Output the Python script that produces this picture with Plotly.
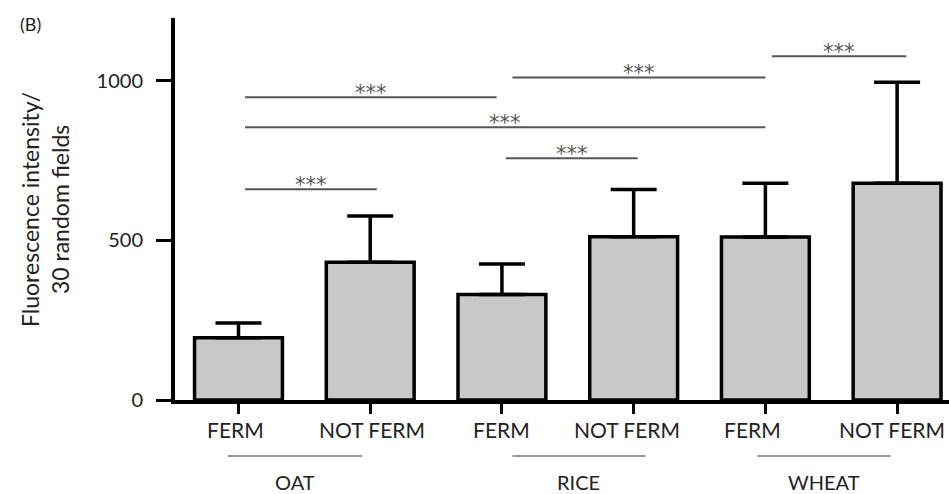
import plotly.graph_objects as go

# ---- data ----
categories = ["FERM", "NOT FERM", "FERM", "NOT FERM", "FERM", "NOT FERM"]
means = [195, 431, 330, 511, 510, 679]
sd_upper = [46, 145, 96, 148, 169, 316]
groups = ["OAT", "RICE", "WHEAT"]
group_start = [-0.08, 2.08, 3.94]
group_end = [0.94, 3.09, 4.95]
y_ticks = [0, 500, 1000]

# significance brackets
sig_start = [0.05, 0.05, 2.03, 0.05, 2.08, 4.05]
sig_end = [1.96, 4.0, 3.03, 1.05, 4.0, 5.07]
sig_height = [948, 854, 757, 660, 1010, 1076]
sig_label = ["***", "***", "***", "***", "***", "***"]

# label nudges (pixels) — styling only
label_nudge = [-3, 2, 0, -7, -13, -5]

FONT = "Lato"
TXT = "#222222"
x_pos = list(range(len(categories)))

fig = go.Figure()
fig.add_trace(go.Bar(
    x=x_pos, y=means, width=0.667,
    marker=dict(color="#c8c8c8", line=dict(color="black", width=3.5)),
    error_y=dict(type="data", array=sd_upper, arrayminus=[0] * len(means),
                 symmetric=False, color="black", thickness=3.5, width=23),
    showlegend=False,
))

shapes = []
annotations = []
for s, e, h, lab in zip(sig_start, sig_end, sig_height, sig_label):
    shapes.append(dict(type="line", xref="x", yref="y", x0=s, x1=e, y0=h, y1=h,
                       line=dict(color="#555555", width=2)))
    annotations.append(dict(x=(s + e) / 2, y=h, xref="x", yref="y", text=lab,
                            showarrow=False, yanchor="middle", yshift=4,
                            font=dict(family="DejaVu Sans", size=21, color="#555555")))

for xp, lab, dx in zip(x_pos, categories, label_nudge):
    annotations.append(dict(x=xp, y=-0.0784, xref="x", yref="paper", text=lab,
                            showarrow=False, yanchor="middle", xshift=dx,
                            font=dict(family=FONT, size=21, color=TXT)))

for g, s, e in zip(groups, group_start, group_end):
    shapes.append(dict(type="line", xref="x", yref="paper", x0=s, x1=e,
                       y0=-0.1464, y1=-0.1464,
                       line=dict(color="#777777", width=1.5)))
    annotations.append(dict(x=(s + e) / 2, y=-0.2144, xref="x", yref="paper", text=g,
                            showarrow=False, yanchor="middle",
                            font=dict(family=FONT, size=20, color=TXT)))

annotations.append(dict(x=-0.168, y=0.5, xref="paper", yref="paper",
                        text="Fluorescence intensity/<br>30 random fields",
                        textangle=-90, showarrow=False, xanchor="center", yanchor="middle",
                        font=dict(family=FONT, size=23, color=TXT)))
annotations.append(dict(x=-0.1866, y=0.983, xref="paper", yref="paper", text="(B)",
                        showarrow=False, xanchor="center", yanchor="middle",
                        font=dict(family=FONT, size=18, color=TXT)))

fig.update_layout(
    width=949, height=494,
    margin=dict(l=174.5, r=0, t=17.5, b=94, pad=0),
    plot_bgcolor="white", paper_bgcolor="white",
    shapes=shapes, annotations=annotations,
    font=dict(family=FONT, color=TXT),
)
fig.update_xaxes(
    range=[-0.482, 5.394], tickmode="array", tickvals=x_pos, showticklabels=False,
    showline=True, linecolor="black", linewidth=4, ticks="outside", ticklen=10,
    tickwidth=3, tickcolor="black", showgrid=False, zeroline=False,
)
fig.update_yaxes(
    range=[0, 1196], tickmode="array", tickvals=y_ticks,
    showline=True, linecolor="black", linewidth=4, ticks="outside", ticklen=15,
    tickwidth=3, tickcolor="black", showgrid=False, zeroline=False,
    ticklabelstandoff=9,
    tickfont=dict(family=FONT, size=20, color=TXT),
)

fig.write_html(
    "out.html",
    config={"displayModeBar": False},
    post_script="document.body.style.margin='0';document.body.style.overflow='hidden';"
                "document.documentElement.style.overflow='hidden';",
)
